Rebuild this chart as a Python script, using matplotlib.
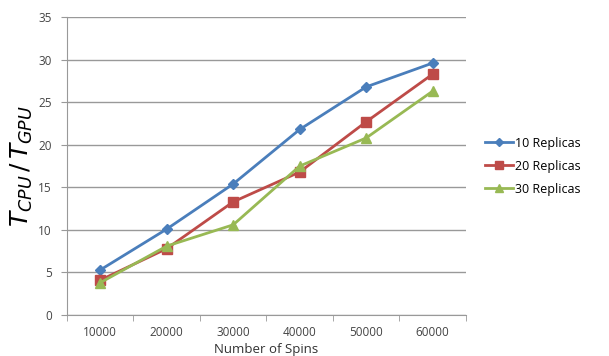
import matplotlib.pyplot as plt
import numpy as np

genes = ['10000', '20000', '30000', '40000', '50000', '60000']
r10 = [5.3, 10.1, 15.4, 21.8, 26.8, 29.6]
r20 = [4.1, 7.8, 13.3, 16.8, 22.7, 28.3]
r30 = [3.8, 8.1, 10.6, 17.5, 20.8, 26.3]

plt.rcParams['font.family'] = ['Open Sans', 'DejaVu Sans']

fig = plt.figure(figsize=(6.09, 3.56), dpi=100)
ax = fig.add_axes([0.110, 0.115, 0.655, 0.837])

x = np.arange(1, len(genes) + 1)
ax.plot(x, r10, color='#4A7EBB', marker='D', markersize=5, lw=2, label='10 Replicas')
ax.plot(x, r20, color='#BE4B48', marker='s', markersize=7, lw=2, label='20 Replicas')
ax.plot(x, r30, color='#98B954', marker='^', markersize=7, lw=2, label='30 Replicas')

ax.set_xlim(0.5, 6.5)
ax.set_ylim(0, 35)
ax.set_yticks(np.arange(0, 36, 5))
ax.set_xticks(x)
ax.set_xticklabels(genes)
ax.set_xticks(np.arange(0.5, 7, 1), minor=True)
ax.tick_params(axis='x', which='major', length=0, pad=8, labelsize=8.5, colors='#444444')
ax.tick_params(axis='x', which='minor', length=4, direction='out', color='#999999')
ax.tick_params(axis='y', length=4, color='#999999', labelsize=8.5, labelcolor='#444444', pad=7)

ax.grid(axis='y', color='#999999', lw=1)
ax.set_axisbelow(True)
for s in ['top', 'right']:
    ax.spines[s].set_visible(False)
for s in ['left', 'bottom']:
    ax.spines[s].set_color('#999999')

ax.set_ylabel(r'$T_{CPU}\,/\,T_{GPU}$', fontsize=18, labelpad=2)
fig.text(0.437, 0.0, 'Number of Spins', ha='center', va='bottom', fontsize=9.5, color='#333333')

ax.legend(loc='center left', bbox_to_anchor=(1.02, 0.5), frameon=False,
          fontsize=9, handlelength=2.2, handletextpad=0.2, labelspacing=0.8,
          markerscale=0.8)

fig.savefig('out.png', dpi=100)
